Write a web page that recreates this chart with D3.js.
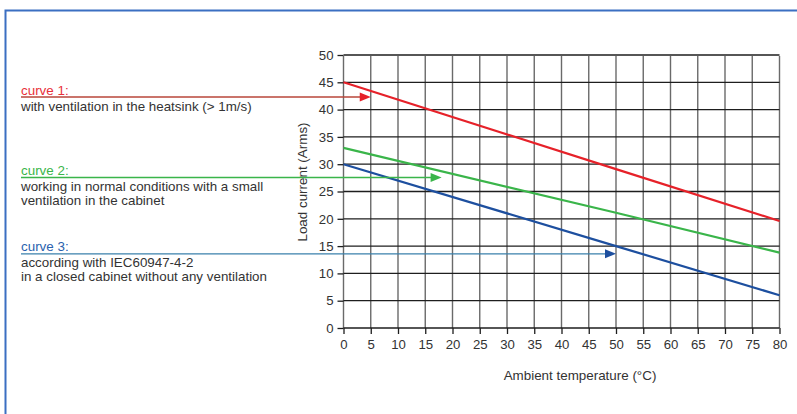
<!DOCTYPE html>
<html><head><meta charset="utf-8">
<script src="https://cdn.jsdelivr.net/npm/d3@7"></script>
<style>
html,body{margin:0;padding:0;background:#fff;}
svg{display:block;font-family:"Liberation Sans",Arial,sans-serif;}
</style></head>
<body>
<svg id="chart" width="797" height="414"></svg>
<script>
// ---- data ----
const xTicks = [0,5,10,15,20,25,30,35,40,45,50,55,60,65,70,75,80];
const yTicks = [0,5,10,15,20,25,30,35,40,45,50];
const temps = [0, 50, 80];
const curve1 = [45, 29.1, 19.6];
const curve2 = [33, 21.1, 13.8];
const curve3 = [30, 15, 6];
const curveNames = ["curve 1:", "curve 2:", "curve 3:"];
const curveDescs = [
  ["with ventilation in the heatsink (> 1m/s)"],
  ["working in normal conditions with a small", "ventilation in the cabinet"],
  ["according with IEC60947-4-2", "in a closed cabinet without any ventilation"]
];
const arrowTargets = [[5, 42.3], [18, 27.6], [50, 13.6]]; // (°C, A) where pointer arrows end
const xLabel = "Ambient temperature (°C)";
const yLabel = "Load current (Arms)";

// ---- styles ----
const lineColors = ["#e62129", "#3ab54a", "#1d4f9f"];
const textColors = ["#e8303a", "#3ab54a", "#2a62ae"];
const pointerColors = ["#b8463a", "#3ab54a", "#3a80ab"];
const headColors = ["#e62129", "#3ab54a", "#1d4f9f"];
const FS = 13.4;

const svg = d3.select("#chart");
const x = d3.scaleLinear().domain([0, 80]).range([343.5, 779.5]);
const y = d3.scaleLinear().domain([0, 50]).range([328, 55]);

// frame
svg.append("path").attr("d", "M5.5,414 V10.5 H797")
  .attr("fill", "none").attr("stroke", "#3b6fc2").attr("stroke-width", 2);

// grid
svg.append("g").selectAll("line").data(xTicks).join("line")
  .attr("x1", d => x(d)).attr("x2", d => x(d))
  .attr("y1", y(50) + 1).attr("y2", y(0))
  .attr("stroke", "#6a6a6a").attr("stroke-width", 1.4);
svg.append("g").selectAll("line").data(yTicks).join("line")
  .attr("x1", x(0)).attr("x2", x(80))
  .attr("y1", d => y(d)).attr("y2", d => y(d))
  .attr("stroke", "#1e1e1e").attr("stroke-width", 1.3);

// axes
const ax = svg.append("g").attr("transform", `translate(0,${y(0)})`)
  .call(d3.axisBottom(x).tickValues(xTicks).tickSize(6).tickSizeOuter(0).tickPadding(6));
const ay = svg.append("g").attr("transform", `translate(${x(0)},0)`)
  .call(d3.axisLeft(y).tickValues(yTicks).tickSize(6).tickSizeOuter(0).tickPadding(4));
[ax, ay].forEach(a => {
  a.select(".domain").remove();
  a.selectAll(".tick line").attr("stroke", "#1e1e1e").attr("stroke-width", 1.3);
  a.selectAll(".tick text").attr("fill", "#333").attr("font-size", 13.2)
    .attr("font-family", "Liberation Sans, Arial, sans-serif");
});

// axis labels
svg.append("text").attr("x", 580).attr("y", 380).attr("text-anchor", "middle")
  .attr("font-size", FS).attr("fill", "#333").text(xLabel);
svg.append("text").attr("transform", "translate(306.5,182) rotate(-90)")
  .attr("text-anchor", "middle").attr("font-size", FS).attr("fill", "#333").text(yLabel);

// curves
const series = [curve1, curve2, curve3];
const line = d3.line().x((d, i) => x(temps[i])).y(d => y(d));
svg.append("g").selectAll("path").data(series).join("path")
  .attr("d", d => line(d)).attr("fill", "none")
  .attr("stroke", (d, i) => lineColors[i]).attr("stroke-width", 2.2);

// annotations
const nameY = [95, 174.5, 250.5];
const pointerY = [97, 177.5, 253.8];
curveNames.forEach((nm, i) => {
  svg.append("text").attr("x", 21).attr("y", nameY[i]).attr("font-size", FS)
    .attr("fill", textColors[i]).text(nm);
  const g = svg.append("g").attr("transform", `translate(21,${nameY[i] + 16.2}) scale(1.07,1)`);
  g.selectAll("text").data(curveDescs[i]).join("text")
    .attr("x", 0).attr("y", (d, j) => j * 14.1)
    .attr("font-size", 12.5).attr("fill", "#333").text(d => d);
  const tx = x(arrowTargets[i][0]);
  const py = pointerY[i];
  svg.append("line").attr("x1", 21).attr("x2", tx - 8).attr("y1", py).attr("y2", py)
    .attr("stroke", pointerColors[i]).attr("stroke-width", 1.3);
  svg.append("path").attr("d", `M${tx},${py} L${tx - 11},${py - 4.5} L${tx - 11},${py + 4.5} Z`)
    .attr("fill", headColors[i]);
});
</script>
</body></html>
